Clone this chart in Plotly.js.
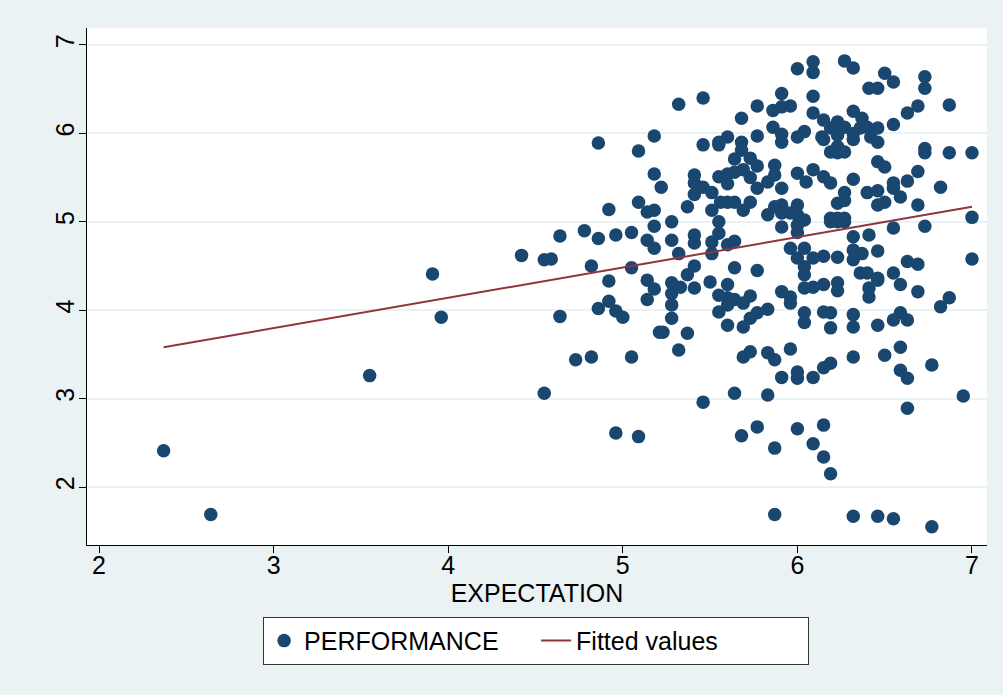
<!DOCTYPE html>
<html>
<head>
<meta charset="utf-8">
<script src="https://cdn.plot.ly/plotly-3.0.1.min.js"></script>
<style>html,body{margin:0;padding:0;background:#EAF2F3;}</style>
</head>
<body>
<div id="chart" style="width:1003px;height:695px;"></div>
<script>
// EXPECTATION (x) values of the PERFORMANCE scatter
const expectation = [
2.37,2.64,3.55,3.91,3.96,4.86,5.09,5.18,5.18,4.92,5.09,5.14,5.18,5.18,4.64,4.78,4.86,4.96,5.05,5.14,
5.18,4.42,4.55,4.59,4.82,5.05,5.22,4.92,5.14,5.18,5.14,4.92,4.86,4.96,5.00,4.64,5.21,4.73,4.82,5.05,
4.55,4.96,5.09,6.09,6.09,6.00,5.91,6.09,5.46,5.32,5.77,5.86,5.96,5.91,6.09,5.68,6.19,5.46,5.55,5.60,
5.55,5.77,5.86,5.91,5.91,6.00,6.04,6.14,5.68,5.68,5.64,5.73,6.27,6.32,6.50,6.55,6.73,6.73,6.41,6.46,
6.87,6.69,6.63,6.32,6.37,6.55,6.15,6.23,6.15,6.23,6.27,6.32,6.32,6.36,6.40,6.46,6.42,6.46,6.19,6.23,
6.27,6.23,6.73,6.73,6.87,7.00,5.41,5.41,5.46,5.41,5.51,5.55,5.60,5.64,5.69,5.77,5.73,5.60,5.77,5.83,
5.87,5.87,5.91,6.00,6.05,6.09,5.37,5.51,5.56,5.60,5.64,5.69,5.73,5.28,5.55,5.55,5.83,5.87,5.91,5.91,
5.91,5.96,6.00,6.00,6.00,6.00,6.04,5.28,5.41,5.41,5.51,5.51,5.60,5.64,5.32,5.96,6.00,6.04,6.09,6.04,
6.04,5.41,5.37,5.64,5.77,6.15,6.19,6.32,6.46,6.50,6.69,6.63,6.55,6.55,6.82,6.40,6.46,6.27,6.23,6.27,
6.46,6.50,6.59,6.69,6.19,6.23,6.27,6.19,6.23,6.27,7.00,6.55,6.73,6.32,6.41,6.32,6.37,6.32,6.46,6.15,
6.23,7.00,6.63,6.69,6.36,6.40,6.46,6.55,5.28,5.28,5.33,5.41,5.50,5.55,5.60,5.60,5.60,5.64,5.69,5.73,
5.55,5.60,5.69,5.73,5.77,5.83,5.91,5.96,5.96,6.04,6.09,6.04,6.04,5.28,5.28,5.23,5.37,5.32,5.69,5.73,
5.83,5.87,5.96,5.91,6.00,6.00,6.09,5.46,5.64,5.83,6.15,6.23,6.23,6.41,6.41,6.46,6.59,6.69,6.87,6.82,
6.15,6.19,6.32,6.32,6.19,6.46,6.55,6.59,6.63,6.59,6.50,6.32,6.19,6.15,6.77,6.59,6.63,6.95,6.63,5.68,
5.77,5.87,6.00,6.09,5.87,6.15,6.15,6.19,6.32,6.46,6.55,6.77
];
// PERFORMANCE (y) values
const performance = [
2.41,1.69,3.26,4.41,3.92,5.89,5.80,5.97,5.54,5.14,5.22,5.11,5.13,4.95,4.84,4.90,4.81,4.85,4.88,4.79,
4.70,4.62,4.57,4.58,4.50,4.48,5.39,4.33,4.34,4.24,4.12,4.10,4.02,3.99,3.92,3.93,3.75,3.44,3.47,3.47,
3.06,2.61,2.57,6.81,6.69,6.73,6.45,6.42,6.40,6.33,6.31,6.26,6.31,6.30,6.23,6.17,6.06,5.87,5.87,5.96,
5.90,5.97,6.07,5.99,5.90,5.96,6.02,5.96,5.90,5.81,5.71,5.72,6.82,6.74,6.68,6.58,6.64,6.51,6.51,6.51,
6.32,6.31,6.23,6.25,6.17,6.10,6.15,6.13,5.93,5.98,6.07,6.00,5.93,6.06,6.07,6.06,5.96,5.90,5.79,5.78,
5.79,5.85,5.83,5.78,5.78,5.78,5.53,5.44,5.39,5.31,5.33,5.51,5.54,5.56,5.59,5.63,5.50,5.43,5.38,5.45,
5.53,5.64,5.38,5.55,5.45,5.59,5.17,5.13,5.22,5.22,5.22,5.13,5.22,5.00,5.00,4.87,5.08,5.17,5.19,5.10,
4.94,5.10,5.19,5.08,4.96,4.88,5.02,4.79,4.85,4.76,4.77,4.64,4.74,4.78,4.64,4.70,4.59,4.70,4.59,4.49,
4.40,4.50,4.40,4.48,4.45,5.51,5.44,5.48,5.68,5.62,5.57,5.46,5.44,5.38,5.39,5.33,5.35,5.33,5.21,5.24,
5.19,5.22,5.28,5.19,5.04,5.04,5.04,5.00,5.00,5.00,5.05,4.93,4.95,4.83,4.85,4.68,4.64,4.57,4.67,4.61,
4.60,4.58,4.55,4.52,4.42,4.42,4.36,4.42,4.19,4.31,4.26,4.25,4.32,4.17,4.29,4.14,4.06,4.12,4.08,4.16,
3.98,3.83,3.81,3.91,3.97,4.01,4.21,4.15,4.08,4.25,4.26,3.97,3.86,4.06,3.91,3.75,3.74,3.55,3.47,3.53,
3.52,3.44,3.56,3.24,3.30,3.23,3.24,2.96,3.06,3.04,4.29,4.31,4.22,4.25,4.15,4.34,4.29,4.21,4.14,4.04,
3.98,3.97,3.95,3.81,3.80,3.83,3.89,3.97,3.89,3.58,3.49,3.47,3.40,3.35,3.38,3.32,3.23,3.03,2.89,2.58,
2.68,2.44,2.66,2.49,1.69,2.70,2.34,2.15,1.67,1.67,1.64,1.55
];
// Fitted values line (end points)
const fitX = [2.37, 7.00];
const fitY = [3.58, 5.17];

const xTicks = [2, 3, 4, 5, 6, 7];
const yTicks = [2, 3, 4, 5, 6, 7];

const FONT = 'Liberation Sans, Arial, sans-serif';
const FS = 25;

const traces = [
  {
    type: 'scatter', mode: 'markers', name: 'PERFORMANCE',
    x: expectation, y: performance,
    marker: {color: '#1A476F', size: 13.5, line: {width: 0}},
    hoverinfo: 'x+y'
  },
  {
    type: 'scatter', mode: 'lines', name: 'Fitted values',
    x: fitX, y: fitY,
    line: {color: '#90353B', width: 2}
  }
];

const layout = {
  width: 1003, height: 695,
  paper_bgcolor: '#EAF2F3',
  plot_bgcolor: '#FFFFFF',
  margin: {l: 87, r: 16, t: 28, b: 150},
  font: {family: FONT, size: FS, color: '#000000'},
  showlegend: true,
  xaxis: {
    range: [1.931, 7.086],
    tickvals: xTicks, ticktext: xTicks.map(String),
    ticks: 'outside', ticklen: 7, tickwidth: 1, tickcolor: '#000',
    ticklabelstandoff: -9,
    showline: true, linecolor: '#000', linewidth: 1,
    showgrid: false, zeroline: false,
    tickfont: {family: FONT, size: FS, color: '#000'},
    title: {text: 'EXPECTATION', font: {family: FONT, size: FS, color: '#000'}, standoff: 2}
  },
  yaxis: {
    range: [1.344, 7.192],
    tickvals: yTicks, ticktext: yTicks.map(String),
    tickangle: -90,
    ticks: 'outside', ticklen: 7, tickwidth: 1, tickcolor: '#000',
    ticklabelstandoff: -5,
    showline: true, linecolor: '#000', linewidth: 1,
    showgrid: true, gridcolor: '#EAF2F3', gridwidth: 2,
    zeroline: false,
    tickfont: {family: FONT, size: FS, color: '#000'}
  },
  legend: {
    orientation: 'h',
    x: 0.499, xanchor: 'center',
    y: -0.139, yanchor: 'top',
    bgcolor: '#FFFFFF', bordercolor: '#333333', borderwidth: 1,
    font: {family: FONT, size: FS, color: '#000'},
    entrywidth: 227, entrywidthmode: 'pixels'
  }
};

Plotly.newPlot('chart', traces, layout, {displayModeBar: false, staticPlot: true});
</script>
</body>
</html>
